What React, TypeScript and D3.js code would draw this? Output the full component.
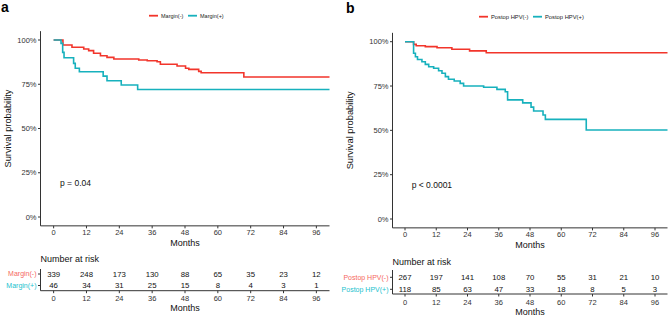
import React from "react";
import * as d3 from "d3";

const monthTicks = [0, 12, 24, 36, 48, 60, 72, 84, 96];
const yTicks = [0, 0.25, 0.5, 0.75, 1];

// Panel a: Margin
const aNegTimes = [0, 3.4, 6.7, 11, 12.8, 14.6, 17.1, 19.5, 22, 31.1, 34.2, 37.8, 39, 45.1, 48.2, 49.4, 53, 53.9, 69.5, 100.8];
const aNegSurv = [1, 0.972, 0.959, 0.949, 0.94, 0.925, 0.911, 0.902, 0.893, 0.887, 0.883, 0.877, 0.863, 0.853, 0.84, 0.834, 0.823, 0.815, 0.791, 0.791];
const aPosTimes = [0, 2.7, 3.3, 3.8, 7.3, 7.9, 9.4, 18.1, 19.5, 24.7, 30.7, 100.8];
const aPosSurv = [1, 0.981, 0.93, 0.9, 0.868, 0.84, 0.821, 0.796, 0.77, 0.746, 0.72, 0.72];
const aRiskNeg = [339, 248, 173, 130, 88, 65, 35, 23, 12];
const aRiskPos = [46, 34, 31, 25, 15, 8, 4, 3, 1];

// Panel b: Postop HPV
const bNegTimes = [0, 3.3, 4.3, 7.8, 12.3, 18, 24.8, 31.2, 100.8];
const bNegSurv = [1, 0.985, 0.977, 0.972, 0.966, 0.957, 0.948, 0.938, 0.938];
const bPosTimes = [0, 3.3, 4, 4.8, 6.5, 7.8, 9.1, 11, 12.9, 14.2, 15.5, 16.7, 18.9, 21.2, 22.5, 30.2, 35.3, 38.5, 39.4, 45.2, 48.4, 49.4, 53, 53.9, 69.6, 100.8];
const bPosSurv = [1, 0.935, 0.915, 0.9, 0.887, 0.872, 0.859, 0.85, 0.836, 0.822, 0.803, 0.788, 0.778, 0.765, 0.75, 0.743, 0.731, 0.718, 0.672, 0.655, 0.631, 0.609, 0.587, 0.562, 0.502, 0.502];
const bRiskNeg = [267, 197, 141, 108, 70, 55, 31, 21, 10];
const bRiskPos = [118, 85, 63, 47, 33, 18, 8, 5, 3];

const RED = "#F2352B";
const CYAN = "#17B1BD";
const RED_LABEL = "#F5685E";
const CYAN_LABEL = "#22C2CE";
const AXIS = "#333";
const FONT = "Liberation Sans, Arial, sans-serif";

type PanelProps = {
  letter: string;
  letterX: number;
  letterY: number;
  xRange: [number, number];
  yRange: [number, number];
  titleX: number;
  negLabel: string;
  posLabel: string;
  legendFont: number;
  legendNegX: number;
  legendPosX: number;
  legendY: number;
  negT: number[];
  negS: number[];
  posT: number[];
  posS: number[];
  pText: string;
  pX: number;
  pY: number;
  riskNeg: number[];
  riskPos: number[];
  riskTitleY: number;
  row1Y: number;
  row2Y: number;
  riskAxisY: number;
  riskAxisTop: number;
  riskLabelFont: number;
};

function Panel(p: PanelProps) {
  const x = d3.scaleLinear().domain([-4.8, 100.8]).range(p.xRange);
  const y = d3.scaleLinear().domain([0, 1]).range(p.yRange);
  const left = p.xRange[0];
  const right = p.xRange[1];
  const axisY = y(-0.05);
  const topY = y(1.05);
  const line = d3
    .line<[number, number]>()
    .x((d) => x(d[0]))
    .y((d) => y(d[1]))
    .curve(d3.curveStepAfter);
  const negPts = p.negT.map((t, i) => [t, p.negS[i]] as [number, number]);
  const posPts = p.posT.map((t, i) => [t, p.posS[i]] as [number, number]);
  const midY = (y(0) + y(1)) / 2;
  const midX = (x(0) + x(96)) / 2;
  return (
    <g fontFamily={FONT}>
      <text x={p.letterX} y={p.letterY} fontSize={14} fontWeight="bold" fill="#000">
        {p.letter}
      </text>
      {/* legend */}
      <line x1={p.legendNegX} x2={p.legendNegX + 9} y1={p.legendY} y2={p.legendY} stroke={RED} strokeWidth={1.8} />
      <text x={p.legendNegX + 12} y={p.legendY} dy="0.35em" fontSize={p.legendFont} fill="#222">
        {p.negLabel}
      </text>
      <line x1={p.legendPosX} x2={p.legendPosX + 9} y1={p.legendY} y2={p.legendY} stroke={CYAN} strokeWidth={1.8} />
      <text x={p.legendPosX + 12} y={p.legendY} dy="0.35em" fontSize={p.legendFont} fill="#222">
        {p.posLabel}
      </text>
      {/* axes */}
      <line x1={left} x2={left} y1={topY} y2={axisY} stroke={AXIS} strokeWidth={1} />
      <line x1={left} x2={right} y1={axisY} y2={axisY} stroke={AXIS} strokeWidth={1} />
      {yTicks.map((t) => (
        <g key={"y" + t}>
          <line x1={left - 2.5} x2={left} y1={y(t)} y2={y(t)} stroke={AXIS} />
          <text x={left - 4} y={y(t)} dy="0.35em" textAnchor="end" fontSize={7.5} fill="#333">
            {Math.round(t * 100) + "%"}
          </text>
        </g>
      ))}
      {monthTicks.map((t) => (
        <g key={"x" + t}>
          <line x1={x(t)} x2={x(t)} y1={axisY} y2={axisY + 2.5} stroke={AXIS} />
          <text x={x(t)} y={axisY + 7} dy="0.35em" textAnchor="middle" fontSize={7.5} fill="#333">
            {t}
          </text>
        </g>
      ))}
      <text x={midX} y={axisY + 17} dy="0.35em" textAnchor="middle" fontSize={9} fill="#111">
        Months
      </text>
      <text
        transform={`translate(${p.titleX},${midY}) rotate(-90)`}
        textAnchor="middle"
        fontSize={9.3}
        fill="#111"
      >
        Survival probability
      </text>
      {/* curves */}
      <path d={line(negPts) || ""} fill="none" stroke={RED} strokeWidth={1.6} />
      <path d={line(posPts) || ""} fill="none" stroke={CYAN} strokeWidth={1.6} />
      <text x={p.pX} y={p.pY} dy="0.35em" fontSize={8.5} fill="#111">
        {p.pText}
      </text>
      {/* risk table */}
      <text x={left} y={p.riskTitleY} dy="0.35em" fontSize={9} fill="#111">
        Number at risk
      </text>
      <line x1={left} x2={left} y1={p.riskAxisTop} y2={p.riskAxisY} stroke={AXIS} />
      <line x1={left} x2={right} y1={p.riskAxisY} y2={p.riskAxisY} stroke={AXIS} />
      <line x1={left - 2.5} x2={left} y1={p.row1Y} y2={p.row1Y} stroke={AXIS} />
      <line x1={left - 2.5} x2={left} y1={p.row2Y} y2={p.row2Y} stroke={AXIS} />
      <text x={left - 4} y={p.row1Y} dy="0.35em" textAnchor="end" fontSize={p.riskLabelFont} fill={RED_LABEL}>
        {p.negLabel}
      </text>
      <text x={left - 4} y={p.row2Y} dy="0.35em" textAnchor="end" fontSize={p.riskLabelFont} fill={CYAN_LABEL}>
        {p.posLabel}
      </text>
      {monthTicks.map((t, i) => (
        <g key={"r" + t}>
          <text x={x(t)} y={p.row1Y} dy="0.35em" textAnchor="middle" fontSize={7.8} fill="#111">
            {p.riskNeg[i]}
          </text>
          <text x={x(t)} y={p.row2Y} dy="0.35em" textAnchor="middle" fontSize={7.8} fill="#111">
            {p.riskPos[i]}
          </text>
          <line x1={x(t)} x2={x(t)} y1={p.riskAxisY} y2={p.riskAxisY + 2.5} stroke={AXIS} />
          <text x={x(t)} y={p.riskAxisY + 8} dy="0.35em" textAnchor="middle" fontSize={7.5} fill="#333">
            {t}
          </text>
        </g>
      ))}
      <text x={midX} y={p.riskAxisY + 17.5} dy="0.35em" textAnchor="middle" fontSize={9} fill="#111">
        Months
      </text>
    </g>
  );
}

export default function App() {
  return (
    <svg
      width={668}
      height={318}
      style={{ position: "absolute", left: 0, top: 0, background: "#fff" }}
    >
      <rect width={668} height={318} fill="#fff" />
      <Panel
        letter="a"
        letterX={1}
        letterY={12}
        xRange={[40.5, 329.5]}
        yRange={[217, 40]}
        titleX={11}
        negLabel="Margin(-)"
        posLabel="Margin(+)"
        legendFont={5.5}
        legendNegX={149}
        legendPosX={188}
        legendY={15.7}
        negT={aNegTimes}
        negS={aNegSurv}
        posT={aPosTimes}
        posS={aPosSurv}
        pText="p = 0.04"
        pX={60}
        pY={182.7}
        riskNeg={aRiskNeg}
        riskPos={aRiskPos}
        riskTitleY={259.3}
        row1Y={274}
        row2Y={285.5}
        riskAxisY={290.7}
        riskAxisTop={269}
        riskLabelFont={7}
      />
      <Panel
        letter="b"
        letterX={346}
        letterY={12.5}
        xRange={[392.5, 667.5]}
        yRange={[219, 41.7]}
        titleX={352.5}
        negLabel="Postop HPV(-)"
        posLabel="Postop HPV(+)"
        legendFont={5.8}
        legendNegX={479}
        legendPosX={533}
        legendY={16.7}
        negT={bNegTimes}
        negS={bNegSurv}
        posT={bPosTimes}
        posS={bPosSurv}
        pText="p < 0.0001"
        pX={411.7}
        pY={185}
        riskNeg={bRiskNeg}
        riskPos={bRiskPos}
        riskTitleY={262}
        row1Y={277.3}
        row2Y={289.3}
        riskAxisY={294}
        riskAxisTop={270}
        riskLabelFont={7}
      />
    </svg>
  );
}
